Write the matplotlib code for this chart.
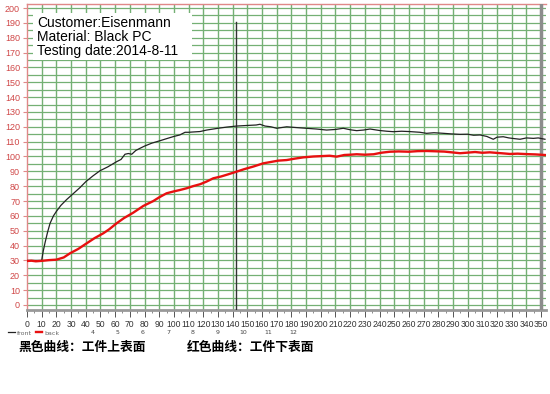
import matplotlib
matplotlib.use('Agg')
import matplotlib.pyplot as plt
from matplotlib.ticker import MultipleLocator

# data (time s, temperature C)
front_x = [0, 5, 10, 11, 12.3, 14, 15.7, 18, 20, 23, 27, 31.5, 36, 40, 45, 49.7, 55, 61, 64,
           66.7, 69, 71.3, 74, 76.9, 80, 85, 90.5, 95, 100, 104, 107.6, 110, 113, 117.8, 122.3,
           130, 136, 142.7, 148, 152, 156, 158.6, 162, 166, 170, 176.8, 183, 190, 197, 204,
           210, 215.3, 220, 224.4, 229, 233.5, 240, 245, 249.4, 255, 260, 267.5, 272, 277,
           283.4, 289, 294.8, 300, 304, 308.4, 313, 317.4, 320, 324.2, 328, 332, 335.6, 340,
           344.7, 348, 352.6]
front_y = [30, 30, 30, 36, 42, 49, 55, 60, 63, 67, 71, 75, 79, 83, 87, 90.4, 93, 96.5, 98,
           101.5, 102, 101.5, 104, 105.5, 107, 109, 110.6, 112, 113.5, 114.5, 116.3, 116.3,
           116.5, 116.8, 117.8, 119, 119.8, 120.5, 120.8, 121, 121.2, 121.7, 120.5, 120, 119,
           120, 119.5, 119, 118.5, 117.8, 118.2, 119, 118, 117.4, 117.8, 118.5, 117.5, 117,
           116.7, 117, 116.8, 116.3, 115.6, 116, 115.6, 115.2, 114.9, 115, 114.3, 114.5, 113.5,
           111.6, 113, 113.3, 112.5, 112, 111.6, 112.5, 112.2, 112.5, 111.6]

back_x = [0, 3, 6, 10, 15, 20, 25, 29.3, 35, 40.6, 46, 52, 56, 61, 66, 72.4, 79.2, 86, 90, 95,
          100, 104, 108.7, 113, 117.8, 122, 126.8, 132, 137, 142.7, 148, 154, 160.9, 166, 171,
          176.8, 182, 188, 195, 201.7, 206, 210.8, 216, 220, 224.4, 230, 236, 241, 247, 253,
          260, 266, 272, 278, 284, 289, 294.8, 300, 305, 310, 315, 320, 324, 328.8, 334, 340,
          346, 352.6]
back_y = [29.6, 29.8, 29.4, 29.7, 30.2, 30.5, 32, 34.8, 37.8, 41.5, 45, 48.3, 51, 55, 58.5,
          62.2, 66.7, 70, 72.5, 75.2, 76.5, 77.4, 78.6, 80, 81.3, 83, 85.3, 86.5, 88, 89.8,
          91.5, 93.2, 95.4, 96.3, 97.2, 97.6, 98.5, 99.4, 100, 100.3, 100.5, 99.9, 101, 101.2,
          101.5, 101.2, 101.5, 102.5, 103.2, 103.4, 103.2, 103.6, 103.7, 103.5, 103.3, 102.8,
          102.2, 102.6, 103, 102.5, 102.8, 102.4, 102.1, 101.7, 101.9, 101.6, 101.4, 101]

cursor_x = 142.3
extra_labels = ['4', '5', '6', '7', '8', '9', '10', '11', '12']
info_lines = ['Customer:Eisenmann', 'Material: Black PC', 'Testing date:2014-8-11']
note_black = '黑色曲线：工件上表面'
note_red = '红色曲线：工件下表面'

y_lo, y_hi = -3.4, 202.5

fig = plt.figure(figsize=(5.5, 3.94), dpi=100)
ax = fig.add_axes([27 / 550, 84 / 394, 519.3 / 550, 305.7 / 394])
ax.set_xlim(0, 353.5)
ax.set_ylim(y_lo, y_hi)

# grid
grid_c = '#74b074'
for v in range(10, 351, 10):
    ax.axvline(v, color=grid_c, lw=1.0, zorder=1)
for h in range(0, 201, 5):
    ax.axhline(h, color=grid_c, lw=0.9, zorder=1)

# white label box over the grid
ax.axvspan(4, 112, ymin=(165 - y_lo) / (y_hi - y_lo), ymax=(196.5 - y_lo) / (y_hi - y_lo),
           color='white', zorder=2, lw=0)
ax.axvline(350, color='#8c8c8c', lw=2.5, zorder=3)
ax.plot([cursor_x, cursor_x], [y_lo, 190.7], color='#333333', lw=1.0, zorder=3)

ax.plot(front_x, front_y, color='#222222', lw=0.9, zorder=4, label='front')
ax.plot(back_x, back_y, color='#e81010', lw=1.7, zorder=5, label='back')

for sp in ['left', 'top']:
    ax.spines[sp].set_color('#e08888')
    ax.spines[sp].set_linewidth(1.0)
ax.spines['right'].set_visible(False)
ax.spines['bottom'].set_color('#999999')
ax.spines['bottom'].set_linewidth(2.0)

ax.set_xticks(range(0, 351, 10))
ax.set_yticks(range(0, 201, 10))
ax.xaxis.set_minor_locator(MultipleLocator(5))
ax.tick_params(axis='x', which='major', length=5, width=0.7, color='#555555',
               labelsize=6.2, labelcolor='#333333', pad=2)
ax.tick_params(axis='x', which='minor', length=2, width=0.6, color='#777777')
ax.tick_params(axis='y', length=3, width=0.8, color='#e08888', labelsize=6.5,
               labelcolor='#d04848', pad=2)
for lab in ax.get_xticklabels() + ax.get_yticklabels():
    lab.set_family('Liberation Sans')

for i, t in enumerate(info_lines):
    ax.text(7, 190 - i * 9.4, t, fontsize=10, family='Liberation Sans', color='black',
            va='center', ha='left', zorder=6)

# bottom legend row
fig.legend(handles=ax.get_lines()[-2:], labels=['front', 'back'], loc='center left',
           bbox_to_anchor=(0.005, 0.155), ncol=2, fontsize=4.5, frameon=False,
           handlelength=1.0, handletextpad=0.4, columnspacing=0.6, labelcolor='#666666')
for i, t in enumerate(extra_labels):
    fig.text((93 + 25 * i) / 550, 0.155, t, fontsize=4.5, color='#444444',
             ha='center', va='center')

fig.text(18 / 550, 0.118, note_black, fontsize=9.2, fontweight='bold',
         family=['Noto Sans CJK SC', 'DejaVu Sans'], va='center', ha='left')
fig.text(187 / 550, 0.118, note_red, fontsize=9.2, fontweight='bold',
         family=['Noto Sans CJK SC', 'DejaVu Sans'], va='center', ha='left')

fig.savefig('out.png', dpi=100)
